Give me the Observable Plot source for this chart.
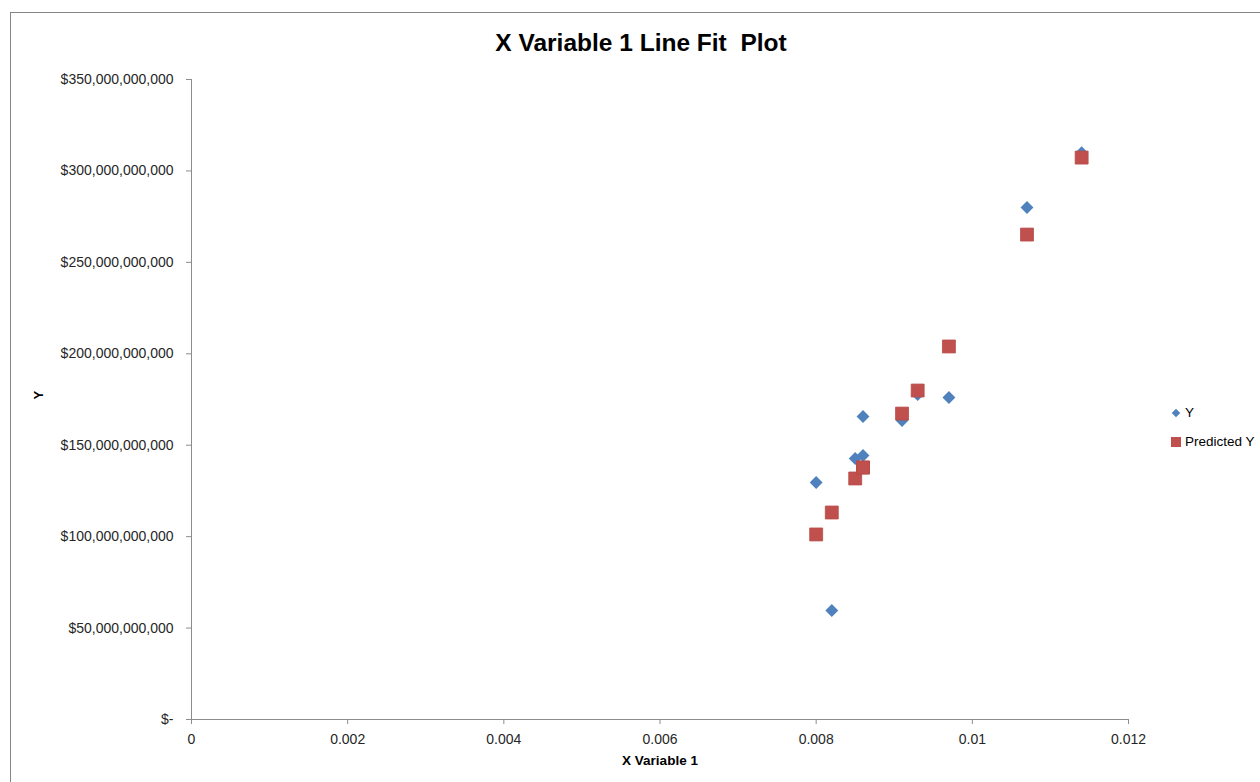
<!DOCTYPE html>
<html>
<head>
<meta charset="utf-8">
<script src="https://cdn.jsdelivr.net/npm/d3@7"></script>
<script src="https://cdn.jsdelivr.net/npm/@observablehq/plot@0.6"></script>
<style>
  html, body { margin: 0; padding: 0; background: #fff; overflow: hidden; }
  #wrap { position: relative; width: 1260px; height: 782px; font-family: "Liberation Sans", Arial, sans-serif; }
  #border { position: absolute; left: 10px; top: 12px; width: 1300px; height: 820px; border: 1px solid #868686; box-sizing: border-box; }
  #title { position: absolute; left: 0; width: 1282px; top: 29px; text-align: center; font-size: 24.5px; font-weight: bold; color: #000; white-space: pre; }
  #chart { position: absolute; left: 0; top: 0; }
  #legend { position: absolute; left: 1170px; top: 398px; font-size: 13.5px; color: #000; }
  .li { display: flex; align-items: center; height: 29px; }
  .sw { width: 11px; height: 11px; display: flex; align-items: center; justify-content: center; margin-right: 4px; }
</style>
</head>
<body>
<div id="wrap">
  <div id="border"></div>
  <div id="chart"></div>
  <div id="title">X Variable 1 Line Fit  Plot</div>
  <div id="legend"></div>
</div>
<script>
// X Variable 1 values
const xValues = [0.0080, 0.0082, 0.0085, 0.0086, 0.0086, 0.0091, 0.0093, 0.0097, 0.0107, 0.0114];
// Observed Y (billions of dollars)
const yValues = [129.6, 59.6, 142.7, 144.4, 165.7, 163.5, 177.7, 176.1, 280.0, 310.0];
// Predicted Y (billions of dollars)
const predictedValues = [101.2, 113.2, 131.8, 137.8, 137.8, 167.3, 179.9, 204.0, 265.2, 307.3];

const seriesNames = ["Y", "Predicted Y"];
const seriesColors = ["#4F81BD", "#C0504D"];
const xTicks = [0, 0.002, 0.004, 0.006, 0.008, 0.01, 0.012];
const yTicks = [0, 50e9, 100e9, 150e9, 200e9, 250e9, 300e9, 350e9];

const observed = xValues.map((x, i) => ({x, y: yValues[i] * 1e9}));
const predicted = xValues.map((x, i) => ({x, y: predictedValues[i] * 1e9}));

const yFmt = d => d === 0 ? "$-" : "$" + d3.format(",")(d);
const xFmt = d => d === 0 ? "0" : String(+d.toFixed(4));

const plot = Plot.plot({
  width: 1260,
  height: 782,
  marginLeft: 191,
  marginRight: 132,
  marginTop: 79,
  marginBottom: 63,
  style: { fontFamily: "Liberation Sans, Arial, sans-serif", background: "transparent", overflow: "visible" },
  x: { domain: [0, 0.012] },
  y: { domain: [0, 350e9] },
  marks: [
    Plot.ruleX([0], { stroke: "#8c8c8c", strokeWidth: 1 }),
    Plot.ruleY([0], { stroke: "#8c8c8c", strokeWidth: 1 }),
    Plot.axisY({ ticks: yTicks, tickFormat: yFmt, tickSize: 5, tickPadding: 13, fontSize: 14, stroke: "#8c8c8c", color: "#262626", label: null }),
    Plot.axisX({ ticks: xTicks, tickFormat: xFmt, tickSize: 5, tickPadding: 10, fontSize: 14, stroke: "#8c8c8c", color: "#262626", label: null }),
    Plot.text(["Y"], { frameAnchor: "left", dx: -153, rotate: -90, fontSize: 13, fontWeight: "bold", fill: "#000" }),
    Plot.text(["X Variable 1"], { frameAnchor: "bottom", dy: 45, fontSize: 13.5, fontWeight: "bold", fill: "#000" }),
    Plot.dot(observed, { x: "x", y: "y", symbol: "diamond2", r: 5.8, fill: seriesColors[0], stroke: null }),
    Plot.dot(predicted, { x: "x", y: "y", symbol: "square", r: 7.3, fill: seriesColors[1], stroke: "#B84A47", strokeWidth: 0.8 })
  ]
});
document.getElementById("chart").appendChild(plot);

// legend
const legend = document.getElementById("legend");
seriesNames.forEach((name, i) => {
  const row = document.createElement("div");
  row.className = "li";
  const sw = document.createElement("div");
  sw.className = "sw";
  const inner = document.createElement("div");
  if (i === 0) {
    inner.style.cssText = `width:6px;height:6px;background:${seriesColors[0]};transform:rotate(45deg);`;
  } else {
    inner.style.cssText = `width:10px;height:10px;background:${seriesColors[1]};`;
  }
  sw.appendChild(inner);
  row.appendChild(sw);
  const t = document.createElement("span");
  t.textContent = name;
  row.appendChild(t);
  legend.appendChild(row);
});
</script>
</body>
</html>
